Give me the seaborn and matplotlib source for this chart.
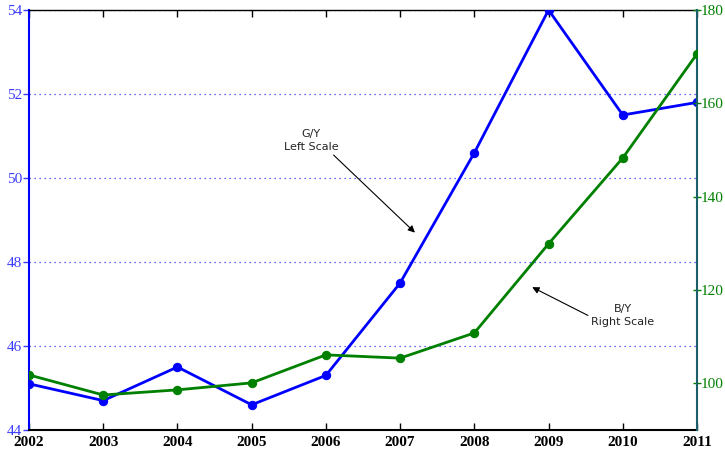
import numpy as np
import pandas as pd
import matplotlib
matplotlib.use("Agg")
import matplotlib.pyplot as plt
import seaborn as sns

# data
years = [2002, 2003, 2004, 2005, 2006, 2007, 2008, 2009, 2010, 2011]
gy_left = [45.1, 44.7, 45.5, 44.6, 45.3, 47.5, 50.6, 54.0, 51.5, 51.8]
by_right = [101.8, 97.5, 98.6, 100.1, 106.1, 105.4, 110.8, 129.9, 148.3, 170.6]

df = pd.DataFrame({"year": years, "gy": gy_left, "by": by_right})

sns.set_style("white")
plt.rcParams['font.family'] = ['Liberation Serif', 'DejaVu Serif']

BLUE = "#0000ff"
GREEN = "#008000"

fig = plt.figure(figsize=(7.25, 4.53), dpi=100)
ax = fig.add_axes([29 / 725, 23 / 453, 668 / 725, 420 / 453])
ax2 = ax.twinx()

sns.lineplot(data=df, x="year", y="gy", ax=ax, color=BLUE, linewidth=2,
             marker="o", markersize=6, markeredgecolor=BLUE, zorder=3)
sns.lineplot(data=df, x="year", y="by", ax=ax2, color=GREEN, linewidth=2,
             marker="o", markersize=6, markeredgecolor=GREEN, zorder=3)

ax.set_xlim(2002, 2011)
ax.set_ylim(44, 54)
ax2.set_ylim(90, 180)
ax.set_xticks(years)
ax.set_xticklabels([str(y) for y in years], fontweight="bold", fontsize=11)
ax.set_yticks([44, 46, 48, 50, 52, 54])
ax2.set_yticks([100, 120, 140, 160, 180])
ax.set_xlabel("")
ax.set_ylabel("")
ax2.set_ylabel("")

ax.grid(axis="y", color=BLUE, linestyle=(0, (1, 3)), linewidth=0.9, alpha=0.8)
ax.grid(axis="x", visible=False)

ax.tick_params(axis="y", colors="#3b3bff", labelsize=11, direction="out",
               length=4, width=1, left=True, pad=1)
ax.tick_params(axis="x", colors="black", labelsize=11, direction="in",
               length=5, width=1, top=True, bottom=True, pad=4)
for lab in ax.get_xticklabels():
    lab.set_color("black")
ax2.tick_params(axis="y", colors=GREEN, labelsize=11, direction="inout",
                length=6, width=1, right=True, pad=0)

ax.spines["left"].set_color(BLUE)
ax.spines["left"].set_linewidth(1.5)
ax.spines["bottom"].set_color("black")
ax.spines["bottom"].set_linewidth(1.5)
ax.spines["top"].set_color("black")
ax.spines["top"].set_linewidth(1)
for sp in ["left", "bottom", "top"]:
    ax2.spines[sp].set_visible(False)
ax.spines["right"].set_visible(False)
ax2.spines["right"].set_color("#1a5f6a")
ax2.spines["right"].set_linewidth(1.5)

# annotations
ax.annotate("G/Y\nLeft Scale", xy=(2007.2, 48.7), xytext=(2005.8, 50.9),
            ha="center", va="center", fontsize=8, family="DejaVu Sans",
            color="#222222", linespacing=1.4,
            arrowprops=dict(arrowstyle="-|>", color="black", lw=0.8,
                            shrinkA=0, shrinkB=0, mutation_scale=10,
                            relpos=(0.85, 0.0)))
ax2.annotate("B/Y\nRight Scale", xy=(2008.78, 120.6), xytext=(2010.0, 114.5),
             ha="center", va="center", fontsize=8, family="DejaVu Sans",
             color="#222222", linespacing=1.4,
             arrowprops=dict(arrowstyle="-|>", color="black", lw=0.8,
                             shrinkA=0, shrinkB=0, mutation_scale=10,
                             relpos=(0.1, 0.3)))

fig.savefig("out.png", dpi=100, facecolor="white")
